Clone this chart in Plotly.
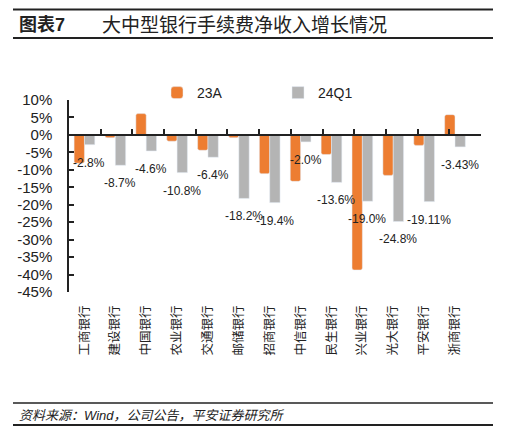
import plotly.graph_objects as go

banks = ["工商银行", "建设银行", "中国银行", "农业银行", "交通银行", "邮储银行", "招商银行",
         "中信银行", "民生银行", "兴业银行", "光大银行", "平安银行", "浙商银行"]
v23a = [-8.1, -0.8, 6.1, -1.8, -4.4, -0.8, -11.1, -13.3, -5.6, -38.7, -11.6, -3.0, 5.8]
v24q1 = [-2.8, -8.7, -4.6, -10.8, -6.4, -18.2, -19.4, -2.0, -13.6, -19.0, -24.8, -19.11, -3.43]
labels24q1 = ["-2.8%", "-8.7%", "-4.6%", "-10.8%", "-6.4%", "-18.2%", "-19.4%",
              "-2.0%", "-13.6%", "-19.0%", "-24.8%", "-19.11%", "-3.43%"]
ytick_vals = [10, 5, 0, -5, -10, -15, -20, -25, -30, -35, -40, -45]
ytick_text = ["10%", "5%", "0%", "-5%", "-10%", "-15%", "-20%", "-25%", "-30%", "-35%", "-40%", "-45%"]
series_names = ["23A", "24Q1"]

W, H = 510, 428
L, R, T, B = 69, 481, 100, 292
def px(x): return (x - L) / (R - L)
def py(y): return (B - y) / (B - T)

FONT = "Liberation Sans, Arial, Noto Sans CJK SC, sans-serif"
ORANGE = "#ED7D31"
GRAY = "#B4B4B4"

fig = go.Figure()
fig.add_trace(go.Bar(x=banks, y=v23a, name=series_names[0], marker=dict(color=ORANGE, cornerradius=2),
                     hoverinfo="skip"))
fig.add_trace(go.Bar(x=banks, y=v24q1, name=series_names[1], marker=dict(color=GRAY),
                     hoverinfo="skip"))
# dummy trace for the zero-line axis with boundary ticks
fig.add_trace(go.Scatter(x=[None], y=[None], xaxis="x2", yaxis="y", showlegend=False,
                         hoverinfo="skip", mode="markers"))

annotations = []
for b, v, t in zip(banks, v24q1, labels24q1):
    annotations.append(dict(x=b, y=v, xref="x", yref="y", text=t, showarrow=False,
                            xshift=5, yshift=-9, yanchor="top", xanchor="center",
                            font=dict(size=12, color="#222", family=FONT)))

annotations += [
    dict(xref="paper", yref="paper", x=px(17), y=py(25), text="<b>图表7</b>", showarrow=False,
         xanchor="left", yanchor="middle", font=dict(size=18, color="#222", family=FONT)),
    dict(xref="paper", yref="paper", x=px(100), y=py(25), text="大中型银行手续费净收入增长情况", showarrow=False,
         xanchor="left", yanchor="middle", font=dict(size=19, color="#222", family=FONT)),
    dict(xref="paper", yref="paper", x=px(17), y=py(415), text="<i>资料来源：Wind，公司公告，平安证券研究所</i>",
         showarrow=False, xanchor="left", yanchor="middle", font=dict(size=13, color="#222", family=FONT)),
]

shapes = []
for yy, lw in [(9.5, 2), (38, 2), (403, 1.5), (425, 2)]:
    shapes.append(dict(type="rect", xref="paper", yref="paper", x0=px(13), x1=px(493),
                       y0=py(yy - lw / 2), y1=py(yy + lw / 2), fillcolor="#222",
                       line=dict(width=0), layer="above"))

fig.update_layout(
    width=W, height=H,
    margin=dict(l=L, r=W - R, t=T, b=H - B, pad=0, autoexpand=False),
    paper_bgcolor="white", plot_bgcolor="white",
    barmode="group", bargap=0.33, bargroupgap=0,
    font=dict(family=FONT, size=12, color="#222"),
    showlegend=True,
    legend=dict(orientation="h", x=px(157), xanchor="left", y=py(93), yanchor="middle",
                font=dict(size=14, color="#222", family=FONT), entrywidth=76,
                bgcolor="rgba(0,0,0,0)"),
    xaxis=dict(type="category", showline=False, ticks="", tickangle=-90,
               tickfont=dict(size=12.5, color="#222", family=FONT), ticklabelstandoff=10,
               showgrid=False, zeroline=False, fixedrange=True),
    xaxis2=dict(overlaying="x", anchor="free", position=45 / 55,
                range=[-0.5, 12.5], tickvals=[i + 0.5 for i in range(13)], ticks="inside",
                ticklen=5, tickwidth=1.5, tickcolor="#222", showline=True, linecolor="#222",
                linewidth=1.5, showticklabels=False, showgrid=False, zeroline=False, side="bottom"),
    yaxis=dict(range=[-45, 10], tickvals=ytick_vals, ticktext=ytick_text, ticks="inside",
               ticklen=5, tickwidth=1.5, tickcolor="#222", showline=True, linecolor="#222",
               linewidth=1.5, showgrid=False, zeroline=False, ticklabelstandoff=12,
               tickfont=dict(size=15, color="#222", family=FONT)),
    annotations=annotations,
    shapes=shapes,
)

fig.write_html("out.html", config={"displayModeBar": False},
               post_script="document.body.style.margin='0';document.body.style.overflow='hidden';")
